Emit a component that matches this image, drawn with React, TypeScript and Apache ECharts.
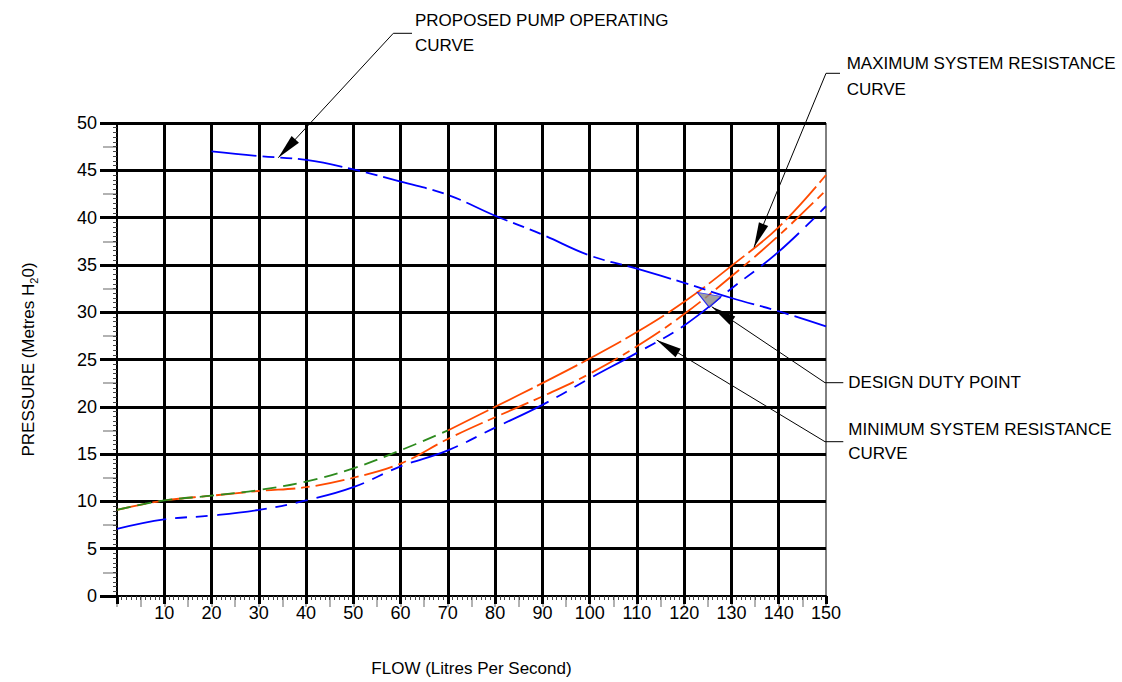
import React, { useEffect, useRef } from 'react';
import * as echarts from 'echarts';

// ---- data ----
const flowAll = [0, 10, 20, 30, 40, 50, 60, 70, 80, 90, 100, 110, 120, 130, 140, 150];
const minResistance = [7.1, 8.1, 8.5, 9.1, 10.1, 11.5, 13.7, 15.4, 17.8, 20.2, 23.0, 25.7, 28.6, 32.5, 36.4, 41.2];
const maxResistanceDashDot = [9.1, 10.1, 10.6, 11.1, 11.5, 12.5, 14.0, 16.6, 18.9, 21.1, 23.5, 26.4, 29.8, 33.8, 38.1, 42.9];
const flowLow = [0, 10, 20, 30, 40, 50, 60, 70];
const maxResistanceLow = [9.1, 10.1, 10.6, 11.2, 12.1, 13.5, 15.4, 17.5];
const flowHigh = [70, 80, 90, 100, 110, 120, 130, 140, 150];
const maxResistanceHigh = [17.5, 20.0, 22.5, 25.1, 27.9, 31.1, 34.9, 39.0, 44.5];
const flowPump = [20, 30, 40, 50, 60, 70, 80, 90, 100, 110, 120, 130, 140, 150];
const pumpPressure = [47.0, 46.5, 46.1, 45.1, 43.8, 42.4, 40.2, 38.2, 36.0, 34.6, 33.1, 31.5, 30.1, 28.5];
const dutyPoint = [125.3, 31.3];

const annotationLines1 = ['PROPOSED PUMP OPERATING', 'CURVE'];
const annotationLines2 = ['MAXIMUM SYSTEM RESISTANCE', 'CURVE'];
const annotationLines3 = ['DESIGN DUTY POINT'];
const annotationLines4 = ['MINIMUM SYSTEM RESISTANCE', 'CURVE'];

const FONT = '"Liberation Sans", Arial, Helvetica, sans-serif';

const pairs = (xs: number[], ys: number[]) => xs.map((x, i) => [x, ys[i]]);

function arrowHead(tip: number[], from: number[], len: number, hw: number) {
  const dx = from[0] - tip[0];
  const dy = from[1] - tip[1];
  const d = Math.sqrt(dx * dx + dy * dy);
  const ux = dx / d;
  const uy = dy / d;
  const bx = tip[0] + ux * len;
  const by = tip[1] + uy * len;
  return [tip, [bx - uy * hw, by + ux * hw], [bx + uy * hw, by - ux * hw]];
}

function leader(points: number[][]) {
  const tip = points[points.length - 1];
  const from = points[points.length - 2];
  return [
    { type: 'polyline', shape: { points }, style: { stroke: '#000', lineWidth: 1, fill: null }, z: 10 },
    { type: 'polygon', shape: { points: arrowHead(tip, from, 25, 5) }, style: { fill: '#000' }, z: 10 },
  ];
}

function texts(lines: string[], x: number, y: number, step: number) {
  return lines.map((t, i) => ({
    type: 'text',
    x,
    y: y + i * step,
    z: 10,
    style: { text: t, fontSize: 17, fontFamily: FONT, fill: '#000', align: 'left', verticalAlign: 'middle' },
  }));
}

const curveLine = (color: string, type: number[]) => ({ color, width: 1.8, type, cap: 'butt' });

export default function App() {
  const ref = useRef<HTMLDivElement>(null);
  useEffect(() => {
    document.body.style.margin = '0';
    if (!ref.current) return;
    const chart = echarts.init(ref.current, undefined, { renderer: 'svg' });
    const option: any = {
      animation: false,
      backgroundColor: '#fff',
      textStyle: { fontFamily: FONT },
      grid: { left: 117, right: 296, top: 123, bottom: 86, show: true, borderColor: '#000', borderWidth: 1, backgroundColor: 'transparent' },
      xAxis: [
        {
          type: 'value', min: 0, max: 150, interval: 10, position: 'bottom', z: 3,
          name: 'FLOW (Litres Per Second)', nameLocation: 'middle', nameGap: 64,
          nameTextStyle: { fontSize: 17, color: '#000', fontFamily: FONT },
          axisLine: { show: true, onZero: false, lineStyle: { color: '#000', width: 2 } },
          axisTick: { show: true, length: 8, lineStyle: { color: '#000', width: 3 } },
          minorTick: { show: true, splitNumber: 10, length: 4, lineStyle: { color: '#444', width: 1 } },
          axisLabel: { margin: 8, fontSize: 18, color: '#000', fontFamily: FONT, showMinLabel: false },
          splitLine: { show: true, showMinLine: false, showMaxLine: false, lineStyle: { color: '#000', width: 3 } },
        },
        {
          type: 'value', min: 0, max: 150, interval: 5, position: 'bottom', z: 1,
          axisLine: { show: false },
          axisTick: { show: true, length: 11, lineStyle: { color: '#999', width: 1.5 } },
          axisLabel: { show: false },
          splitLine: { show: false },
        },
      ],
      yAxis: [
        {
          type: 'value', min: 0, max: 50, interval: 5, position: 'left', z: 3,
          name: 'PRESSURE (Metres H{sub|2}0)', nameLocation: 'middle', nameRotate: 90, nameGap: 78,
          nameTextStyle: {
            fontSize: 17, color: '#000', fontFamily: FONT, lineHeight: 22,
            rich: { sub: { fontSize: 11, color: '#000', fontFamily: FONT, verticalAlign: 'bottom', lineHeight: 14 } },
          },
          axisLine: { show: true, onZero: false, lineStyle: { color: '#000', width: 2 } },
          axisTick: { show: true, length: 17, lineStyle: { color: '#000', width: 3 } },
          minorTick: { show: true, splitNumber: 10, length: 4, lineStyle: { color: '#444', width: 1 } },
          axisLabel: { margin: 20, fontSize: 18, color: '#000', fontFamily: FONT },
          splitLine: { show: true, showMinLine: false, showMaxLine: true, lineStyle: { color: '#000', width: 3 } },
        },
        {
          type: 'value', min: 0, max: 50, interval: 2.5, position: 'left', z: 1,
          axisLine: { show: false },
          axisTick: { show: true, length: 14, lineStyle: { color: '#999', width: 1.5 } },
          axisLabel: { show: false },
          splitLine: { show: false },
        },
      ],
      series: [
        {
          name: 'Max resistance (dash-dot)', type: 'line', data: pairs(flowAll, maxResistanceDashDot),
          showSymbol: false, symbol: 'none', smooth: 0.4, z: 4,
          lineStyle: curveLine('#FF4A00', [30, 6, 8, 6]),
        },
        {
          name: 'Max resistance (low)', type: 'line', data: pairs(flowLow, maxResistanceLow),
          showSymbol: false, symbol: 'none', smooth: 0.4, z: 5,
          lineStyle: curveLine('#2E8B1E', [14, 7]),
        },
        {
          name: 'Max resistance (high)', type: 'line', data: pairs(flowHigh, maxResistanceHigh),
          showSymbol: false, symbol: 'none', smooth: 0.4, z: 4,
          lineStyle: curveLine('#FF4A00', [45, 5]),
        },
        {
          name: 'Min resistance', type: 'line', data: pairs(flowAll, minResistance),
          showSymbol: false, symbol: 'none', smooth: 0.4, z: 4,
          lineStyle: curveLine('#0000FF', [50, 9, 12, 9, 12, 9]),
        },
        {
          name: 'Pump', type: 'line', data: pairs(flowPump, pumpPressure),
          showSymbol: false, symbol: 'none', smooth: 0.4, z: 4,
          lineStyle: curveLine('#0000FF', [45, 6, 12, 6, 12, 6]),
        },
        {
          name: 'Design duty point', type: 'scatter', data: [dutyPoint],
          symbol: 'path://M0,0L24,4L12,15Z', symbolSize: [24, 15], z: 6,
          itemStyle: { color: '#8a8a8a', borderColor: '#0000FF', borderWidth: 1 },
        },
      ],
      graphic: [
        ...leader([[412, 33.3], [393.3, 33.3], [278.3, 157.7]]),
        ...leader([[840, 73.3], [826, 73.3], [754, 247.3]]),
        ...leader([[843.3, 382.7], [825, 382.7], [711.7, 306.7]]),
        ...leader([[843.3, 441.7], [825, 441.7], [656.7, 340]]),
        ...texts(annotationLines1, 415, 20.5, 25),
        ...texts(annotationLines2, 846.7, 63, 26.7),
        ...texts(annotationLines3, 848.3, 382.7, 24),
        ...texts(annotationLines4, 848.3, 429.7, 24),
      ],
    };
    chart.setOption(option);
    return () => chart.dispose();
  }, []);
  return <div ref={ref} style={{ width: 1122, height: 682 }} />;
}
